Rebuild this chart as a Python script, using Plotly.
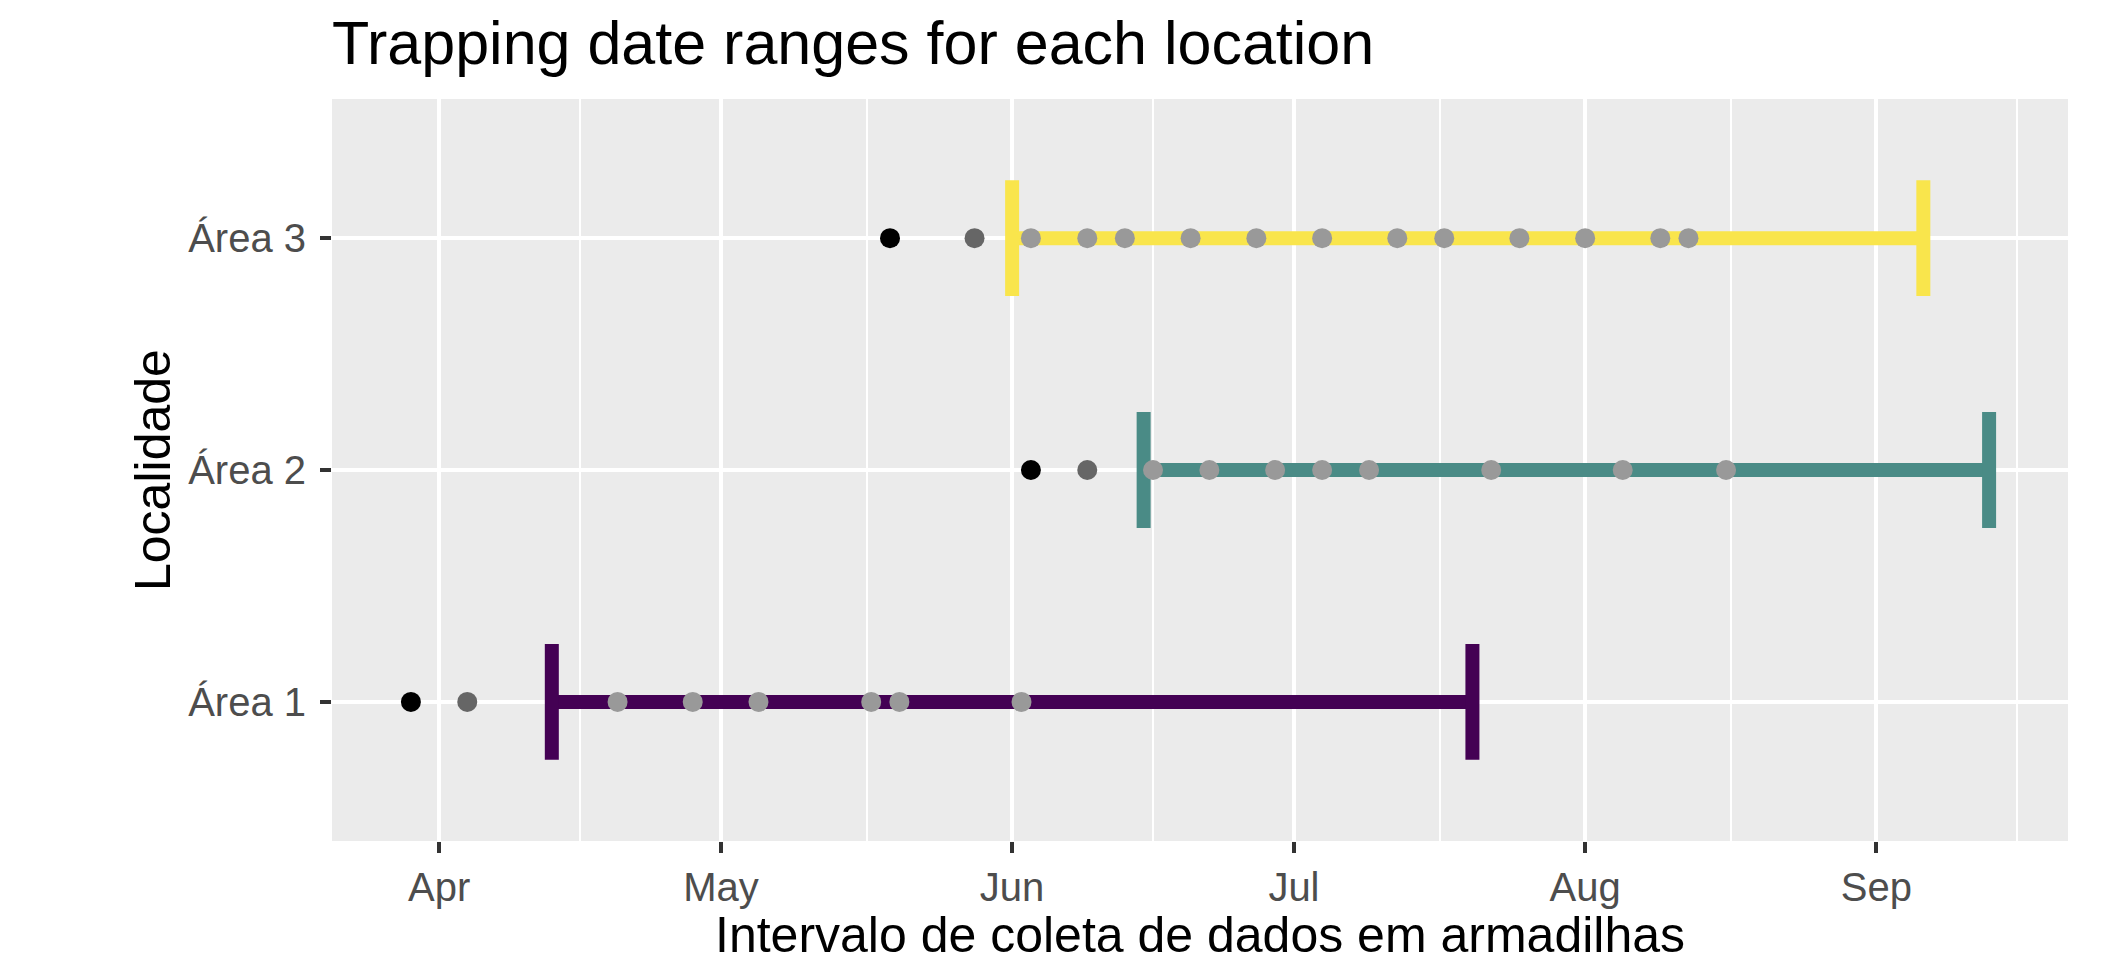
import pandas as pd
import plotly.graph_objects as go

YEAR = "2021"

areas = ["Área 1", "Área 2", "Área 3"]
range_start = ["04-13", "06-15", "06-01"]
range_end = ["07-20", "09-13", "09-06"]
first_date = ["03-29", "06-03", "05-19"]
second_date = ["04-04", "06-09", "05-28"]
check_dates = [
    ["04-20", "04-28", "05-05", "05-17", "05-20", "06-02"],
    ["06-16", "06-22", "06-29", "07-04", "07-09", "07-22", "08-05", "08-16"],
    ["06-03", "06-09", "06-13", "06-20", "06-27", "07-04", "07-12", "07-17",
     "07-25", "08-01", "08-09", "08-12"],
]
area_colors = ["#440154", "#4A8B86", "#F9E54C"]

month_breaks = ["04-01", "05-01", "06-01", "07-01", "08-01", "09-01"]


def d(md):
    return pd.Timestamp(f"{YEAR}-{md}")


FONT = "Liberation Sans, Arial, Helvetica, sans-serif"
CAP = 0.25
# page body has an 8px margin, so the figure is drawn slightly smaller
W, H = 2116, 968

fig = go.Figure()

# horizontal range bars with end caps
for i, area in enumerate(areas):
    s, e = d(range_start[i]), d(range_end[i])
    fig.add_trace(go.Scatter(
        x=[s, e, None, s, s, None, e, e],
        y=[i, i, None, i - CAP, i + CAP, None, i - CAP, i + CAP],
        mode="lines",
        line=dict(color=area_colors[i], width=14),
        hoverinfo="skip",
        showlegend=False,
    ))

# points
for i, area in enumerate(areas):
    xs = [d(m) for m in check_dates[i]]
    fig.add_trace(go.Scatter(
        x=xs, y=[i] * len(xs), mode="markers",
        marker=dict(color="#999999", size=20, line=dict(width=0)),
        showlegend=False, name=area,
    ))
    fig.add_trace(go.Scatter(
        x=[d(second_date[i])], y=[i], mode="markers",
        marker=dict(color="#666666", size=20, line=dict(width=0)),
        showlegend=False, name=area,
    ))
    fig.add_trace(go.Scatter(
        x=[d(first_date[i])], y=[i], mode="markers",
        marker=dict(color="#000000", size=20, line=dict(width=0)),
        showlegend=False, name=area,
    ))

# ggplot-like expansion of the date range
all_dates = [d(m) for m in first_date + range_end]
lo, hi = min(all_dates), max(all_dates)
pad = (hi - lo) * 0.05
x_range = [lo - pad, hi + pad]

majors = [d(m) for m in month_breaks]
ext = majors + [majors[-1] + pd.offsets.MonthBegin(1)]
minors = [a + (b - a) / 2 for a, b in zip(ext[:-1], ext[1:])]

ML, MR, MT, MB = 324, 56, 91, 135
PW, PH = W - ML - MR, H - MT - MB

fig.update_layout(
    width=W, height=H,
    margin=dict(l=ML, r=MR, t=MT, b=MB),
    paper_bgcolor="white",
    plot_bgcolor="#EBEBEB",
    font=dict(family=FONT, color="#000000"),
    title=dict(
        text="Trapping date ranges for each location",
        font=dict(family=FONT, size=61, color="#000000"),
        xref="paper", x=0, xanchor="left",
        yref="container", y=1 - 35 / H, yanchor="middle",
    ),
    xaxis=dict(
        range=x_range,
        tickvals=majors,
        tickformat="%b",
        tickfont=dict(family=FONT, size=40, color="#4D4D4D"),
        ticks="outside", ticklen=11, tickwidth=4, tickcolor="#333333",
        ticklabelstandoff=0,
        showgrid=True, gridcolor="white", gridwidth=4,
        minor=dict(tickvals=minors, showgrid=True, gridcolor="white",
                   gridwidth=2, ticks=""),
        zeroline=False, showline=False, automargin=False,
    ),
    yaxis=dict(
        range=[-0.6, 2.6],
        tickvals=list(range(len(areas))),
        ticktext=areas,
        tickfont=dict(family=FONT, size=40, color="#4D4D4D"),
        ticks="outside", ticklen=11, tickwidth=4, tickcolor="#333333",
        ticklabelstandoff=6,
        showgrid=True, gridcolor="white", gridwidth=4,
        zeroline=False, showline=False, automargin=False,
    ),
    annotations=[
        dict(text="Intervalo de coleta de dados em armadilhas",
             xref="paper", x=0.5, xanchor="center",
             yref="paper", y=-94 / PH, yanchor="middle",
             showarrow=False,
             font=dict(family=FONT, size=50, color="#000000")),
        dict(text="Localidade", textangle=-90,
             xref="paper", x=-179 / PW, xanchor="center",
             yref="paper", y=0.5, yanchor="middle",
             showarrow=False,
             font=dict(family=FONT, size=50, color="#000000")),
    ],
)

fig.write_html("out.html")
